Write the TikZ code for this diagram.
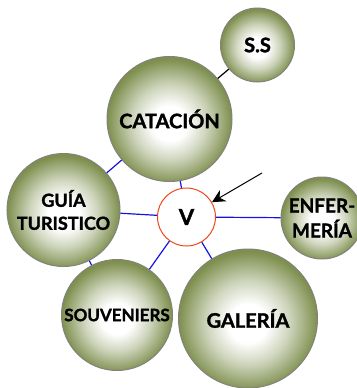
\documentclass[tikz,border=0pt]{standalone}
\usepackage{fontspec}
\setmainfont{Lato}[BoldFeatures={FakeBold=1.5}]
\usepackage{tikz}
\usetikzlibrary{arrows.meta}
\definecolor{ballOlive}{RGB}{126,143,78}
\definecolor{ballRim}{RGB}{130,130,125}
\definecolor{hubRed}{RGB}{240,70,30}
\definecolor{linkBlue}{RGB}{20,20,225}
\pgfdeclareradialshading{ballshade}{\pgfpoint{0bp}{-2bp}}{%
  color(0bp)=(white); color(7bp)=(white); color(15bp)=(ballOlive!38!white);
  color(21bp)=(ballOlive!75!white); color(25bp)=(ballOlive); color(50bp)=(ballOlive)}
\tikzset{
  ball/.style={
    circle,
    draw=ballRim,
    line width=1pt,
    shading=ballshade,
    align=center,
    inner sep=0pt,
    font=\bfseries\fontsize{20}{23}\selectfont
  },
  hub/.style={
    circle,
    draw=hubRed,
    line width=1pt,
    fill=white,
    minimum size=58pt,
    inner sep=0pt,
    font=\bfseries\fontsize{22}{24}\selectfont
  },
  link/.style={draw=linkBlue, line width=1.2pt},
  plainlink/.style={draw=black, line width=1.2pt},
  pointer/.style={-{Stealth[length=13pt, width=13pt]}, line width=1pt, draw=black}
}
\begin{document}
\begin{tikzpicture}[x=1pt, y=-1pt]
  \useasboundingbox (0,0) rectangle (356,388);

  \node[ball, minimum size=74pt] (ss) at (257.5,45) {S.S};
  \node[ball, minimum size=125pt] (catacion) at (169.5,119) {CATACIÓN};
  \node[ball, minimum size=113pt,
        font=\bfseries\fontsize{18}{23}\selectfont] (guia) at (63.5,210) {GUÍA\\TURISTICO};
  \node[hub] (v) at (186.5,217) {V};
  \node[ball, minimum size=82pt,
        font=\bfseries\fontsize{19}{25}\selectfont] (enfermeria) at (322,218) {ENFER-\\MERÍA};
  \node[ball, minimum size=111pt,
        font=\bfseries\fontsize{17}{20}\selectfont] (souveniers) at (117,315) {SOUVENIERS};
  \node[ball, minimum size=139pt] (galeria) at (248,318.5) {GALERÍA};
  \coordinate (hint) at (262,173);

  \draw[plainlink] (ss) -- (catacion);
  \draw[link] (v) -- (catacion);
  \draw[link] (v) -- (guia);
  \draw[link] (v) -- (enfermeria);
  \draw[link] (v) -- (souveniers);
  \draw[link] (v) -- (galeria);
  \draw[link] (guia) -- (catacion);
  \draw[link] (guia) -- (souveniers);
  \draw[pointer] (hint) -- (v);
\end{tikzpicture}
\end{document}
